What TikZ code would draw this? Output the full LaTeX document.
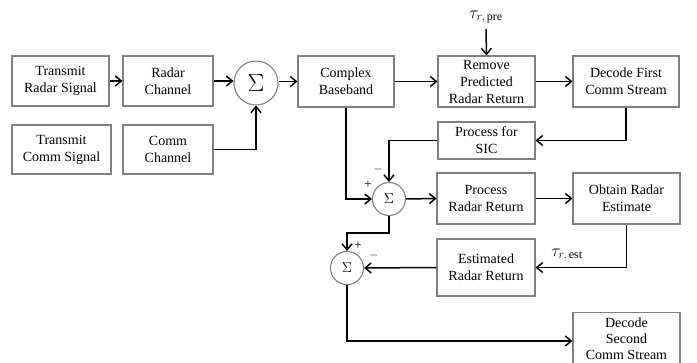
\documentclass[tikz,border=0pt]{standalone}
\usepackage{fontspec}
\setmainfont{Liberation Serif}
\usetikzlibrary{arrows.meta,calc}
\definecolor{boxgray}{RGB}{128,128,128}
\begin{document}
\begin{tikzpicture}[x=1pt,y=-1pt,
  font=\fontsize{14}{17}\selectfont,
  block/.style={draw=boxgray,line width=1.1pt,align=center,inner sep=0pt,fill=white},
  summer/.style={draw=boxgray,line width=1.1pt,circle,inner sep=0pt,minimum size=33pt},
  flow/.style={line width=1.5pt,-{Straight Barb[length=6pt,width=10pt,line width=1.5pt]}},
  delay/.style={inner sep=0pt,font=\fontsize{17}{17}\selectfont},
  sgn/.style={inner sep=0pt,font=\fontsize{13}{13}\selectfont}]
\useasboundingbox (0,0) rectangle (697,363);
\begin{scope}
\clip (0,0) rectangle (697,363);

% transmitters and channels
\node[block,minimum width=97pt,minimum height=50pt] (trs) at (60.5,81) {Transmit\\Radar Signal};
\node[block,minimum width=90pt,minimum height=50pt] (rch) at (168,81) {Radar\\Channel};
\node[block,minimum width=99pt,minimum height=49pt] (trc) at (61.5,149.5) {Transmit\\Comm Signal};
\node[block,minimum width=90pt,minimum height=49pt] (cch) at (168,149.5) {Comm\\Channel};
\node[summer,minimum size=44pt] (sum0) at (256,83) {\fontsize{38}{38}\selectfont$\Sigma$};

% receiver chain
\node[block,minimum width=96pt,minimum height=51pt] (cbb) at (346,81.5) {Complex\\Baseband};
\node[block,minimum width=97pt,minimum height=51pt] (rpr) at (486.5,81.5) {Remove\\Predicted\\Radar Return};
\node[block,minimum width=106pt,minimum height=51pt] (dfc) at (626,81.5) {Decode First\\Comm Stream};
\node[block,minimum width=97pt,minimum height=37pt] (psic) at (486.5,140.5) {Process for\\SIC};
\node[summer] (sum1) at (389,199) {$\Sigma$};
\node[block,minimum width=98pt,minimum height=51pt] (prr) at (486,198.5) {Process\\Radar Return};
\node[block,minimum width=107pt,minimum height=51pt] (ore) at (626.5,198.5) {Obtain Radar\\Estimate};
\node[block,minimum width=98pt,minimum height=57pt] (err) at (486,267.5) {Estimated\\Radar Return};
\node[summer] (sum2) at (347,268) {$\Sigma$};
\node[block,minimum width=107pt,minimum height=52pt,anchor=north,
      font=\fontsize{14}{16}\selectfont] (dsc) at (626.5,312) {Decode\\Second\\Comm Stream};

% delay labels
\node[delay] (tpre) at (486,17) {$\tau_{r,\,\mathrm{pre}}$};
\node[delay] (test) at (567,255) {$\tau_{r,\,\mathrm{est}}$};
\coordinate (tpretail) at (486,29);

% signs at the summing junctions
\node[sgn] (p1) at (368,185) {+};
\node[sgn] (m1) at (378,170) {$-$};
\node[sgn] (p2) at (358,246) {+};
\node[sgn] (m2) at (374,256) {$-$};

% connectors
\draw[flow] (trs.east) -- (rch.west);
\draw[flow] (rch.east) -- (rch.east -| sum0.west);
\draw[flow] (cch.east) -| (sum0.south);
\draw[flow] (sum0.east |- cbb.west) -- (cbb.west);
\draw[flow] (cbb.east) -- (rpr.west);
\draw[flow] (tpretail) -- (rpr.north);
\draw[flow] (rpr.east) -- (dfc.west);
\draw[flow] (dfc.south) |- (psic.east);
\draw[flow] (psic.west) -| (sum1.north);
\draw[flow] (cbb.south) |- (sum1.west);
\draw[flow] (sum1.east) -- (prr.west);
\draw[flow] (prr.east) -- (ore.west);
\draw[flow] (ore.south) |- (err.east);
\draw[flow] (err.west) -- (sum2.east);
\coordinate (bend) at ($(sum1.south)+(0,17)$);
\draw[flow] (sum1.south) -- (bend) -| (sum2.north);
\draw[flow] (sum2.south) -- (sum2.south |- 0,341) -- (dsc.west |- 0,341);
\end{scope}
\end{tikzpicture}
\end{document}
